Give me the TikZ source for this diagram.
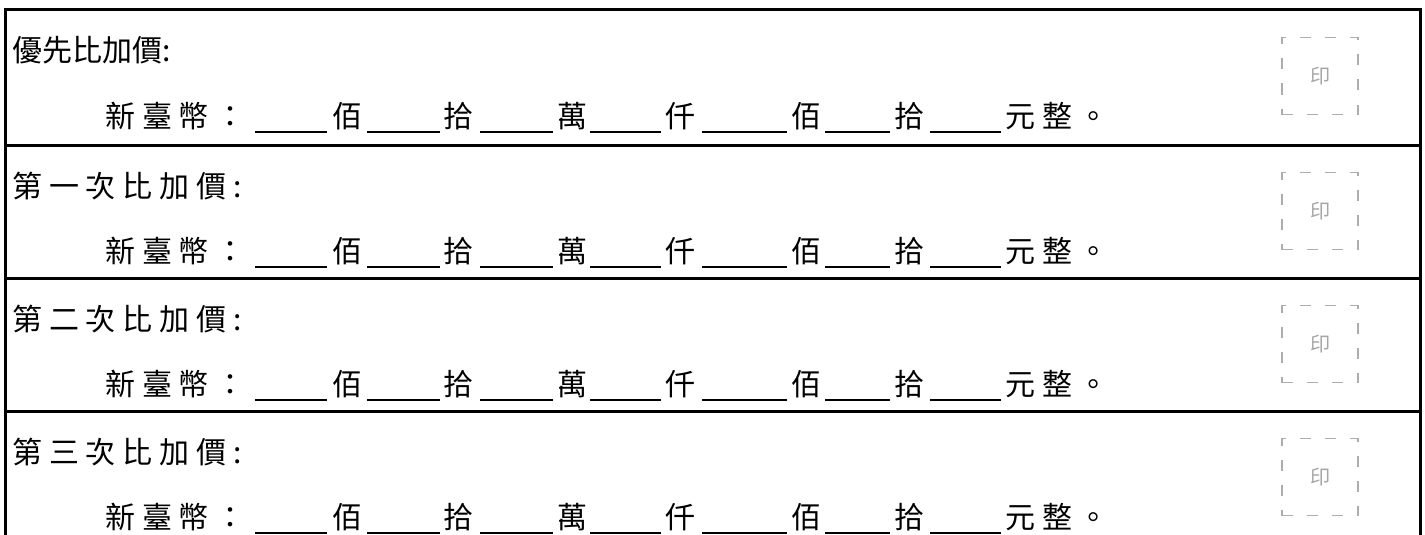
\documentclass[tikz,border=0pt]{standalone}
\usepackage{fontspec}
\newfontfamily\cjk{Noto Sans CJK TC}
\newfontfamily\cjksp[LetterSpace=23]{Noto Sans CJK TC}
\begin{document}
\begin{tikzpicture}[x=1pt,y=-1pt,
  txt/.style={inner sep=0pt, anchor=base west, font=\cjksp\fontsize{30}{36}\selectfont},
  tight/.style={inner sep=0pt, anchor=base west, font=\cjk\fontsize{30}{36}\selectfont},
  unit/.style={inner sep=0pt, anchor=base west, font=\cjk\fontsize{30}{36}\selectfont},
  blank/.style={line width=2pt},
  frame/.style={line width=3pt},
  stamp/.style={draw=black!32, dash pattern=on 11pt off 14pt, line width=1.2pt, minimum width=76pt, minimum height=77pt, inner sep=0pt, text=black!35, font=\cjk\fontsize{20}{24}\selectfont}]
\useasboundingbox (0,0) rectangle (1425,535);
\fill[white] (0,0) rectangle (1425,535);
\node[tight] (title1) at (12,62) {優先比加價:};
\foreach \i/\t/\ttl in {2/145/第一次比加價:, 3/278/第二次比加價:, 4/411/第三次比加價:} {
  \node[txt] (title\i) at (12,\t+52) {\ttl};
}
\foreach \i/\t in {1/10, 2/145, 3/278, 4/411} {
  \node[txt] (cur\i) at (105,\t+117) {新臺幣：};
  \node[unit] (ua\i) at (332,\t+117) {佰};
  \node[unit] (ub\i) at (443,\t+117) {拾};
  \node[unit] (uc\i) at (557,\t+117) {萬};
  \node[unit] (ud\i) at (665,\t+117) {仟};
  \node[unit] (ue\i) at (791,\t+117) {佰};
  \node[unit] (uf\i) at (894,\t+117) {拾};
  \node[txt] (ug\i) at (1005,\t+117) {元整。};
  \draw[blank] (255,\t+122) -- (327,\t+122);
  \draw[blank] (367,\t+122) -- (440,\t+122);
  \draw[blank] (480,\t+122) -- (553,\t+122);
  \draw[blank] (590,\t+122) -- (661,\t+122);
  \draw[blank] (702,\t+122) -- (787,\t+122);
  \draw[blank] (825,\t+122) -- (890,\t+122);
  \draw[blank] (930,\t+122) -- (1001,\t+122);
  \node[stamp] (stamp\i) at (1320,\t+66) {印};
}
\draw[frame] (5,545) -- (5,10) -- (1420,10) -- (1420,545);
\draw[frame] (5,145) -- (1420,145);
\draw[frame] (5,278) -- (1420,278);
\draw[frame] (5,411) -- (1420,411);
\end{tikzpicture}
\end{document}
